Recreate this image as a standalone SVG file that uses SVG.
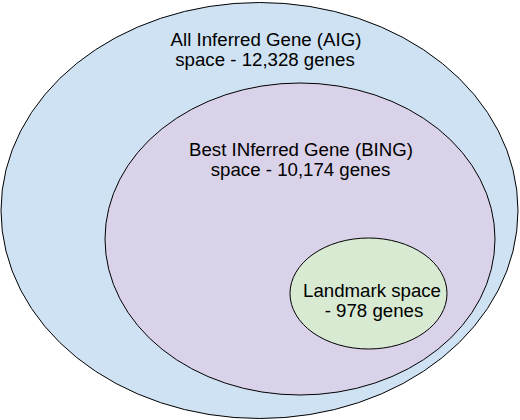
<svg xmlns="http://www.w3.org/2000/svg" width="520" height="420" viewBox="0 0 520 420">
<style>
.s{stroke:#000;stroke-width:1}
text{font-family:"Liberation Sans",Arial,sans-serif;font-size:18.67px;fill:#000;text-anchor:middle}
</style>
<rect width="520" height="420" fill="#fff"/>
<g id="aig">
<ellipse class="s" cx="259.5" cy="210.5" rx="258.5" ry="208" fill="#cfe2f3"/>
<text x="266" y="45.5">All Inferred Gene (AIG)</text>
<text x="265" y="65.5">space - 12,328 genes</text>
</g>
<g id="bing">
<ellipse class="s" cx="300" cy="239" rx="195" ry="156" fill="#d9d2e9"/>
<text x="301" y="156">Best INferred Gene (BING)</text>
<text x="300.5" y="176">space - 10,174 genes</text>
</g>
<g id="landmark">
<ellipse class="s" cx="368.5" cy="293.5" rx="78.5" ry="55.5" fill="#d9ead3"/>
<text x="372" y="296.5">Landmark space</text>
<text x="374" y="317">- 978 genes</text>
</g>
<g id="connectors"/>
</svg>
